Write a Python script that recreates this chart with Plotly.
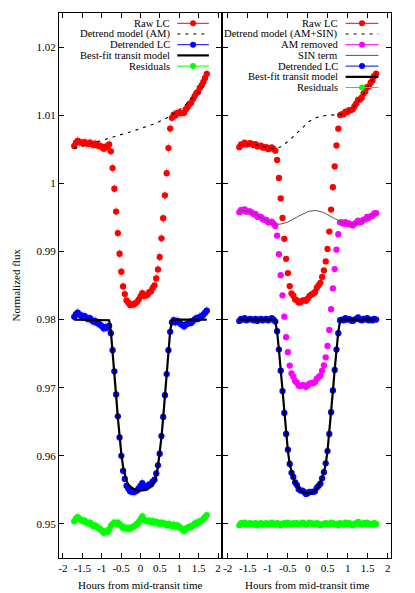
import plotly.graph_objects as go

FONT = 'Liberation Serif'

# time axis shared by every series (hours from mid-transit)
hours = [-1.710, -1.665, -1.620, -1.575, -1.530, -1.485, -1.440, -1.395, -1.350, -1.305,
         -1.260, -1.215, -1.170, -1.125, -1.080, -1.035, -0.990, -0.945, -0.900, -0.855,
         -0.810, -0.765, -0.720, -0.675, -0.630, -0.585, -0.540, -0.495, -0.450, -0.405,
         -0.360, -0.315, -0.270, -0.225, -0.180, -0.135, -0.090, -0.045, 0.000, 0.045,
         0.090, 0.135, 0.180, 0.225, 0.270, 0.315, 0.360, 0.405, 0.450, 0.495,
         0.540, 0.585, 0.630, 0.675, 0.720, 0.765, 0.810, 0.855, 0.900, 0.945,
         0.990, 1.035, 1.080, 1.125, 1.170, 1.215, 1.260, 1.305, 1.350, 1.395,
         1.440, 1.485, 1.530, 1.575, 1.620, 1.665, 1.710]

# ---- left panel: airmass detrending ----
raw_am = [1.00549, 1.00597, 1.00624, 1.00602, 1.00600, 1.00587, 1.00605, 1.00583, 1.00580, 1.00598,
          1.00576, 1.00563, 1.00581, 1.00559, 1.00556, 1.00544, 1.00532, 1.00509, 1.00537, 1.00534,
          1.00572, 1.00470, 1.00224, 0.99920, 0.99585, 0.99270, 0.98966, 0.98702, 0.98487, 0.98374,
          0.98281, 0.98248, 0.98215, 0.98223, 0.98220, 0.98238, 0.98256, 0.98293, 0.98341, 0.98389,
          0.98346, 0.98355, 0.98364, 0.98403, 0.98413, 0.98463, 0.98503, 0.98604, 0.98736, 0.98918,
          0.99192, 0.99487, 0.99823, 1.00149, 1.00517, 1.00804, 1.00962, 1.01008, 1.00995, 1.01033,
          1.01032, 1.01032, 1.01033, 1.01035, 1.01087, 1.01120, 1.01164, 1.01178, 1.01233, 1.01279,
          1.01325, 1.01342, 1.01400, 1.01438, 1.01487, 1.01546, 1.01606]

am_model = [1.00509, 1.00517, 1.00524, 1.00532, 1.00540, 1.00547, 1.00555, 1.00563, 1.00570, 1.00578,
            1.00586, 1.00593, 1.00601, 1.00609, 1.00616, 1.00624, 1.00632, 1.00639, 1.00647, 1.00654,
            1.00662, 1.00670, 1.00677, 1.00685, 1.00693, 1.00700, 1.00708, 1.00716, 1.00723, 1.00731,
            1.00739, 1.00746, 1.00754, 1.00762, 1.00769, 1.00777, 1.00785, 1.00792, 1.00800, 1.00808,
            1.00816, 1.00825, 1.00834, 1.00843, 1.00853, 1.00863, 1.00873, 1.00884, 1.00895, 1.00906,
            1.00918, 1.00930, 1.00943, 1.00957, 1.00971, 1.00986, 1.01002, 1.01018, 1.01035, 1.01053,
            1.01072, 1.01092, 1.01113, 1.01135, 1.01157, 1.01180, 1.01204, 1.01228, 1.01253, 1.01279,
            1.01305, 1.01332, 1.01360, 1.01388, 1.01417, 1.01446, 1.01476]

detrended_am = [0.9804, 0.9808, 0.9810, 0.9807, 0.9806, 0.9804, 0.9805, 0.9802, 0.9801, 0.9802,
                0.9799, 0.9797, 0.9798, 0.9795, 0.9794, 0.9792, 0.9790, 0.9787, 0.9789, 0.9788,
                0.9791, 0.9780, 0.9755, 0.9724, 0.9690, 0.9658, 0.9627, 0.9600, 0.9578, 0.9566,
                0.9556, 0.9552, 0.9548, 0.9548, 0.9547, 0.9548, 0.9549, 0.9552, 0.9556, 0.9560,
                0.9555, 0.9555, 0.9555, 0.9558, 0.9558, 0.9562, 0.9565, 0.9574, 0.9586, 0.9603,
                0.9629, 0.9657, 0.9689, 0.9720, 0.9755, 0.9782, 0.9796, 0.9799, 0.9796, 0.9798,
                0.9796, 0.9794, 0.9792, 0.9790, 0.9793, 0.9794, 0.9796, 0.9795, 0.9798, 0.9800,
                0.9802, 0.9801, 0.9804, 0.9805, 0.9807, 0.9810, 0.9813]

transit_am = [0.9800, 0.9800, 0.9800, 0.9800, 0.9800, 0.9800, 0.9800, 0.9800, 0.9800, 0.9800,
              0.9800, 0.9800, 0.9800, 0.9800, 0.9800, 0.9800, 0.9800, 0.9800, 0.9800, 0.9800,
              0.9799, 0.9783, 0.9755, 0.9722, 0.9689, 0.9656, 0.9627, 0.9603, 0.9584, 0.9571,
              0.9563, 0.9558, 0.9555, 0.9553, 0.9551, 0.9550, 0.9549, 0.9549, 0.9549, 0.9549,
              0.9549, 0.9550, 0.9551, 0.9553, 0.9555, 0.9558, 0.9563, 0.9571, 0.9584, 0.9603,
              0.9627, 0.9656, 0.9689, 0.9722, 0.9755, 0.9783, 0.9799, 0.9800, 0.9800, 0.9800,
              0.9800, 0.9800, 0.9800, 0.9800, 0.9800, 0.9800, 0.9800, 0.9800, 0.9800, 0.9800,
              0.9800, 0.9800, 0.9800, 0.9800, 0.9800, 0.9800, 0.9800]

resid_am = [0.9504, 0.9508, 0.9510, 0.9507, 0.9506, 0.9504, 0.9505, 0.9502, 0.9501, 0.9502,
            0.9499, 0.9497, 0.9498, 0.9495, 0.9494, 0.9492, 0.9490, 0.9487, 0.9489, 0.9488,
            0.9492, 0.9497, 0.9500, 0.9502, 0.9501, 0.9502, 0.9500, 0.9497, 0.9494, 0.9495,
            0.9493, 0.9494, 0.9493, 0.9495, 0.9496, 0.9498, 0.9500, 0.9503, 0.9507, 0.9511,
            0.9506, 0.9505, 0.9504, 0.9505, 0.9503, 0.9504, 0.9502, 0.9503, 0.9502, 0.9500,
            0.9502, 0.9501, 0.9500, 0.9498, 0.9500, 0.9499, 0.9497, 0.9499, 0.9496, 0.9498,
            0.9496, 0.9494, 0.9492, 0.9490, 0.9493, 0.9494, 0.9496, 0.9495, 0.9498, 0.9500,
            0.9502, 0.9501, 0.9504, 0.9505, 0.9507, 0.9510, 0.9513]

err_am = 0.0007

# ---- right panel: airmass + sinusoid detrending ----
raw_sin = [1.00530, 1.00572, 1.00570, 1.00596, 1.00570, 1.00580, 1.00590, 1.00577, 1.00561, 1.00575,
           1.00539, 1.00550, 1.00553, 1.00524, 1.00526, 1.00530, 1.00504, 1.00510, 1.00528, 1.00506,
           1.00479, 1.00342, 1.00079, 0.99780, 0.99492, 0.99185, 0.98891, 0.98682, 0.98491, 0.98385,
           0.98350, 0.98296, 0.98282, 0.98249, 0.98254, 0.98279, 0.98285, 0.98276, 0.98307, 0.98347,
           0.98364, 0.98379, 0.98402, 0.98463, 0.98503, 0.98539, 0.98626, 0.98721, 0.98854, 0.99037,
           0.99292, 0.99615, 0.99942, 1.00248, 1.00555, 1.00802, 1.01001, 1.01016, 1.01012, 1.01053,
           1.01046, 1.01073, 1.01073, 1.01086, 1.01133, 1.01173, 1.01225, 1.01230, 1.01257, 1.01317,
           1.01347, 1.01410, 1.01423, 1.01477, 1.01511, 1.01575, 1.01609]

amsin_model = [1.00550, 1.00561, 1.00569, 1.00575, 1.00579, 1.00579, 1.00579, 1.00576, 1.00571, 1.00565,
               1.00559, 1.00550, 1.00543, 1.00534, 1.00526, 1.00520, 1.00514, 1.00510, 1.00508, 1.00506,
               1.00509, 1.00514, 1.00524, 1.00538, 1.00554, 1.00571, 1.00591, 1.00614, 1.00636, 1.00662,
               1.00689, 1.00716, 1.00742, 1.00770, 1.00796, 1.00821, 1.00847, 1.00869, 1.00891, 1.00911,
               1.00928, 1.00943, 1.00957, 1.00967, 1.00977, 1.00983, 1.00989, 1.00993, 1.00995, 1.00995,
               1.00997, 1.00996, 1.00997, 1.00999, 1.01002, 1.01005, 1.01011, 1.01016, 1.01022, 1.01032,
               1.01046, 1.01063, 1.01083, 1.01107, 1.01133, 1.01163, 1.01195, 1.01230, 1.01267, 1.01307,
               1.01347, 1.01390, 1.01433, 1.01477, 1.01521, 1.01564, 1.01608]

am_removed = [0.99576, 0.99609, 0.99600, 0.99618, 0.99584, 0.99587, 0.99589, 0.99568, 0.99546, 0.99552,
              0.99508, 0.99512, 0.99507, 0.99471, 0.99466, 0.99462, 0.99428, 0.99427, 0.99437, 0.99409,
              0.99374, 0.99231, 0.98960, 0.98652, 0.98356, 0.98043, 0.97741, 0.97522, 0.97324, 0.97208,
              0.97162, 0.97098, 0.97073, 0.97029, 0.97024, 0.97038, 0.97032, 0.97013, 0.97033, 0.97061,
              0.97066, 0.97069, 0.97080, 0.97128, 0.97154, 0.97177, 0.97249, 0.97328, 0.97446, 0.97612,
              0.97848, 0.98152, 0.98457, 0.98741, 0.99026, 0.99252, 0.99428, 0.99427, 0.99407, 0.99429,
              0.99404, 0.99411, 0.99390, 0.99382, 0.99406, 0.99423, 0.99451, 0.99432, 0.99434, 0.99468,
              0.99472, 0.99508, 0.99493, 0.99519, 0.99524, 0.99558, 0.99562]

sin_term = [0.99596, 0.99599, 0.99600, 0.99598, 0.99594, 0.99587, 0.99579, 0.99568, 0.99556, 0.99542,
            0.99528, 0.99512, 0.99497, 0.99481, 0.99466, 0.99452, 0.99438, 0.99427, 0.99417, 0.99409,
            0.99404, 0.99401, 0.99400, 0.99402, 0.99406, 0.99413, 0.99421, 0.99432, 0.99444, 0.99458,
            0.99472, 0.99488, 0.99503, 0.99519, 0.99534, 0.99548, 0.99562, 0.99573, 0.99583, 0.99591,
            0.99596, 0.99599, 0.99600, 0.99598, 0.99594, 0.99587, 0.99579, 0.99568, 0.99556, 0.99542,
            0.99528, 0.99512, 0.99497, 0.99481, 0.99466, 0.99452, 0.99438, 0.99427, 0.99417, 0.99409,
            0.99404, 0.99401, 0.99400, 0.99402, 0.99406, 0.99413, 0.99421, 0.99432, 0.99444, 0.99458,
            0.99472, 0.99488, 0.99503, 0.99519, 0.99534, 0.99548, 0.99562]

detrended_sin = [0.9798, 0.9801, 0.9800, 0.9802, 0.9799, 0.9800, 0.9801, 0.9800, 0.9799, 0.9801,
                 0.9798, 0.9800, 0.9801, 0.9799, 0.9800, 0.9801, 0.9799, 0.9800, 0.9802, 0.9800,
                 0.9797, 0.9783, 0.9756, 0.9725, 0.9695, 0.9663, 0.9632, 0.9609, 0.9588, 0.9575,
                 0.9569, 0.9561, 0.9557, 0.9551, 0.9549, 0.9549, 0.9547, 0.9544, 0.9545, 0.9547,
                 0.9547, 0.9547, 0.9548, 0.9553, 0.9556, 0.9559, 0.9567, 0.9576, 0.9589, 0.9607,
                 0.9632, 0.9664, 0.9696, 0.9726, 0.9756, 0.9780, 0.9799, 0.9800, 0.9799, 0.9802,
                 0.9800, 0.9801, 0.9799, 0.9798, 0.9800, 0.9801, 0.9803, 0.9800, 0.9799, 0.9801,
                 0.9800, 0.9802, 0.9799, 0.9800, 0.9799, 0.9801, 0.9800]

transit_sin = [0.9800, 0.9800, 0.9800, 0.9800, 0.9800, 0.9800, 0.9800, 0.9800, 0.9800, 0.9800,
               0.9800, 0.9800, 0.9800, 0.9800, 0.9800, 0.9800, 0.9800, 0.9800, 0.9800, 0.9800,
               0.9798, 0.9782, 0.9756, 0.9727, 0.9695, 0.9662, 0.9633, 0.9607, 0.9588, 0.9576,
               0.9568, 0.9561, 0.9556, 0.9552, 0.9549, 0.9547, 0.9546, 0.9545, 0.9545, 0.9545,
               0.9546, 0.9547, 0.9549, 0.9552, 0.9556, 0.9561, 0.9568, 0.9576, 0.9588, 0.9607,
               0.9633, 0.9662, 0.9695, 0.9727, 0.9756, 0.9782, 0.9798, 0.9800, 0.9800, 0.9800,
               0.9800, 0.9800, 0.9800, 0.9800, 0.9800, 0.9800, 0.9800, 0.9800, 0.9800, 0.9800,
               0.9800, 0.9800, 0.9800, 0.9800, 0.9800, 0.9800, 0.9800]

resid_sin = [0.9498, 0.9501, 0.9500, 0.9502, 0.9499, 0.9500, 0.9501, 0.9500, 0.9499, 0.9501,
             0.9498, 0.9500, 0.9501, 0.9499, 0.9500, 0.9501, 0.9499, 0.9500, 0.9502, 0.9500,
             0.9499, 0.9501, 0.9500, 0.9498, 0.9500, 0.9501, 0.9499, 0.9502, 0.9500, 0.9499,
             0.9501, 0.9500, 0.9501, 0.9499, 0.9500, 0.9502, 0.9501, 0.9499, 0.9500, 0.9502,
             0.9501, 0.9500, 0.9499, 0.9501, 0.9500, 0.9498, 0.9499, 0.9500, 0.9501, 0.9500,
             0.9499, 0.9502, 0.9501, 0.9499, 0.9500, 0.9498, 0.9501, 0.9500, 0.9499, 0.9502,
             0.9500, 0.9501, 0.9499, 0.9498, 0.9500, 0.9501, 0.9503, 0.9500, 0.9499, 0.9501,
             0.9500, 0.9502, 0.9499, 0.9500, 0.9499, 0.9501, 0.9500]

x_ticks = [-2, -1.5, -1, -0.5, 0, 0.5, 1, 1.5, 2]
x_tick_text = ['-2', '-1.5', '-1', '-0.5', '0', '0.5', '1', '1.5', '2']
y_ticks = [0.95, 0.96, 0.97, 0.98, 0.99, 1.0, 1.01, 1.02]
y_tick_text = ['0.95', '0.96', '0.97', '0.98', '0.99', '1', '1.01', '1.02']

RED = '#ff0000'
BLUE = '#0000ff'
GREEN = '#00ff00'
MAGENTA = '#ff00ff'

# the page body keeps the browser's default 8px margin, so the figure is
# shrunk by that much to put the plot box where the original has it
PAD = 8
W, H = 415 - PAD, 593 - PAD
ML, MR, MT, MB = 59 - PAD, 24, 13 - PAD, 35
plot_h = H - MT - MB
plot_w = W - ML - MR


def points(y, color, xa, ya, err=None, errcolor=None):
    trace = go.Scatter(x=hours, y=y, xaxis=xa, yaxis=ya, mode='markers',
                       marker=dict(color=color, size=6.3, line=dict(width=0)),
                       showlegend=False, hoverinfo='skip')
    if err:
        trace.error_y = dict(type='constant', value=err, color=errcolor,
                             thickness=1, width=0)
    return trace


def curve(y, color, width, xa, ya, dash='solid'):
    return go.Scatter(x=hours, y=y, xaxis=xa, yaxis=ya, mode='lines',
                      line=dict(color=color, width=width, dash=dash),
                      showlegend=False, hoverinfo='skip')


fig = go.Figure()

# left panel
fig.add_trace(points(raw_am, RED, 'x', 'y', err_am, 'rgba(255,90,90,0.6)'))
fig.add_trace(curve(am_model, 'black', 1.1, 'x', 'y', '3px,5px'))
fig.add_trace(points(detrended_am, BLUE, 'x', 'y', err_am, 'rgba(90,90,255,0.6)'))
fig.add_trace(curve(transit_am, 'black', 2.2, 'x', 'y'))
fig.add_trace(points(resid_am, GREEN, 'x', 'y', err_am, 'rgba(90,255,90,0.65)'))

# right panel
fig.add_trace(points(raw_sin, RED, 'x2', 'y2'))
fig.add_trace(curve(amsin_model, 'black', 1.1, 'x2', 'y2', '3px,5px'))
fig.add_trace(points(am_removed, MAGENTA, 'x2', 'y2'))
fig.add_trace(curve(sin_term, '#555555', 1, 'x2', 'y2'))
fig.add_trace(points(detrended_sin, BLUE, 'x2', 'y2'))
fig.add_trace(curve(transit_sin, 'black', 2.2, 'x2', 'y2'))
fig.add_trace(points(resid_sin, GREEN, 'x2', 'y2'))

axis_style = dict(showline=True, linecolor='black', linewidth=1, mirror='ticks',
                  ticks='inside', ticklen=5, tickcolor='black', tickwidth=1,
                  showgrid=False, zeroline=False,
                  tickfont=dict(family=FONT, size=11, color='black'))

fig.update_layout(
    width=W, height=H,
    margin=dict(l=ML, r=MR, t=MT, b=MB),
    paper_bgcolor='white', plot_bgcolor='white',
    showlegend=False,
    font=dict(family=FONT, size=11, color='black'),
    xaxis=dict(domain=[0, 0.488], range=[-2.103, 2.077], anchor='y',
               tickvals=x_ticks, ticktext=x_tick_text, **axis_style),
    xaxis2=dict(domain=[0.494, 1], range=[-2.1175, 2.0825], anchor='y2',
                tickvals=x_ticks, ticktext=x_tick_text, **axis_style),
    yaxis=dict(range=[0.945, 1.025], anchor='x', tickvals=y_ticks,
               ticktext=y_tick_text, **axis_style),
    yaxis2=dict(range=[0.945, 1.025], anchor='x2', tickvals=y_ticks,
                showticklabels=False, **axis_style),
)

# axis titles
fig.add_annotation(text='Normalized flux', textangle=-90, xref='paper', yref='paper',
                   x=(15 - 59) / plot_w, y=0.5, xanchor='center', yanchor='middle',
                   showarrow=False, font=dict(size=11))
for xr in ['x domain', 'x2 domain']:
    fig.add_annotation(text='Hours from mid-transit time', xref=xr, yref='paper',
                       x=0.5, y=(558 - 585) / plot_h, xanchor='center',
                       yanchor='middle', showarrow=False, font=dict(size=11))

# gnuplot-style keys: label on the left, sample on the right
left_key = [('Raw LC', RED, 'marker'),
            ('Detrend model (AM)', 'black', 'dash'),
            ('Detrended LC', BLUE, 'marker'),
            ('Best-fit transit model', 'black', 'thick'),
            ('Residuals', GREEN, 'marker')]
right_key = [('Raw LC', RED, 'marker'),
             ('Detrend model (AM+SIN)', 'black', 'dash'),
             ('AM removed', MAGENTA, 'marker'),
             ('SIN term', '#555555', 'thin'),
             ('Detrended LC', BLUE, 'marker'),
             ('Best-fit transit model', 'black', 'thick'),
             ('Residuals', GREEN, 'marker')]

for xr, entries in [('x domain', left_key), ('x2 domain', right_key)]:
    for k, (label, color, kind) in enumerate(entries):
        ky = (558 - (23.3 + 10.7 * k)) / plot_h
        fig.add_annotation(text=label, xref=xr, yref='paper', x=0.697, y=ky,
                           xanchor='right', yanchor='middle', showarrow=False,
                           font=dict(size=10.6))
        width = {'thick': 2.2, 'dash': 1.1}.get(kind, 1)
        dash = '3px,5px' if kind == 'dash' else 'solid'
        fig.add_shape(type='line', xref=xr, yref='paper', x0=0.73, x1=0.925,
                      y0=ky, y1=ky, line=dict(color=color, width=width, dash=dash))
        if kind == 'marker':
            fig.add_shape(type='circle', xref=xr, yref='paper',
                          xsizemode='pixel', ysizemode='pixel',
                          xanchor=0.8275, yanchor=ky, x0=-3, x1=3, y0=-3, y1=3,
                          fillcolor=color, line=dict(width=0))

fig.write_html('out.html')
